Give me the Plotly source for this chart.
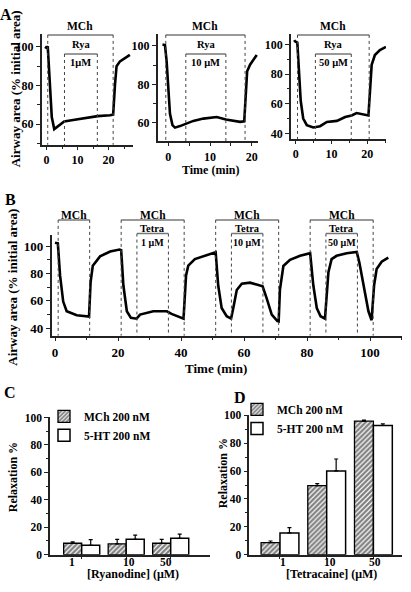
import plotly.graph_objects as go

W, H = 411, 592

# ---------------- Panel A : ryanodine traces (time min, airway area %) -------------
a1_t = [-0.5, 0.0, 0.4, 1.1, 1.7, 2.5, 3.8, 5.7, 8.6, 11.9, 16.5, 20.5, 21.5, 22.1, 22.6, 23.7, 25.3, 26.9]
a1_v = [100.0, 99.5, 100.2, 79.0, 63.7, 57.5, 59.2, 61.4, 62.2, 63.0, 64.2, 64.7, 65.0, 80.6, 90.0, 92.5, 94.2, 95.8]

a2_t = [-1.4, -0.8, -0.4, 0.0, 0.4, 1.0, 1.6, 2.8, 4.2, 6.0, 8.4, 11.6, 13.8, 15.6, 17.2, 18.2, 18.6, 18.9, 19.6, 20.4, 21.2]
a2_v = [100.7, 100.4, 91.9, 78.3, 64.7, 58.8, 57.5, 58.3, 59.6, 61.0, 62.2, 63.0, 61.7, 61.0, 60.5, 60.8, 74.9, 86.8, 90.2, 92.7, 95.3]

a3_t = [-0.4, -0.2, 0.45, 0.9, 1.4, 2.1, 3.1, 4.9, 6.8, 8.7, 11.5, 13.8, 15.6, 17.0, 18.9, 20.3, 20.8, 21.2, 22.1, 23.5, 25.2]
a3_v = [103.0, 102.2, 101.3, 81.9, 62.0, 50.0, 45.5, 44.0, 44.8, 47.7, 48.4, 51.0, 52.1, 53.7, 52.8, 52.1, 70.9, 86.3, 92.9, 96.2, 98.4]

a_mch_on = [0.4, -0.6, 0.5]
a_mch_off = [21.5, 18.4, 20.5]
a_rya_on = [5.8, 4.2, 5.5]
a_rya_off = [16.4, 13.8, 15.5]
a_conc = ["1\u03bcM", "10 \u03bcM", "50 \u03bcM"]

# ---------------- Panel B : tetracaine trace ---------------------------------------
b_t = [0.0, 0.9, 1.6, 2.6, 3.7, 6.9, 10.8, 11.3, 12.0, 14.3,
       17.5, 20.5, 21.0, 21.7, 22.8, 24.1, 25.9, 27.0, 31.2, 35.5,
       37.0, 39.7, 40.8, 41.6, 42.3, 44.4, 48.1, 51.0, 51.8, 52.9,
       54.5, 55.9, 56.6, 57.7, 59.3, 61.9, 64.0, 65.9, 67.2, 68.8,
       70.6, 71.0, 71.4, 72.0, 72.5, 74.6, 77.8, 81.0, 82.0, 83.1,
       84.3, 85.7, 86.8, 87.8, 89.4, 92.6, 95.8, 96.6, 97.9, 99.5,
       100.5, 101.3, 102.1, 103.7, 105.8]
b_v = [102.5, 102.0, 78.6, 59.5, 52.4, 49.5, 48.6, 73.8, 85.7, 92.5,
       96.0, 97.5, 97.0, 71.4, 52.4, 47.6, 47.0, 50.0, 52.4, 52.4,
       50.5, 47.6, 47.0, 78.6, 85.7, 90.5, 93.6, 95.5, 71.4, 54.8,
       48.8, 47.1, 54.8, 67.9, 72.6, 73.3, 71.9, 70.7, 61.9, 50.0,
       45.2, 45.0, 68.0, 80.0, 85.5, 90.0, 92.9, 94.8, 71.4, 54.8,
       48.8, 47.1, 81.0, 90.5, 92.9, 94.8, 95.7, 88.1, 71.4, 52.4,
       45.9, 71.4, 83.3, 88.6, 91.6]

b_mch_on = [1, 21, 51, 81]
b_mch_off = [11, 41, 71, 101]
b_tet_on = [26, 56, 86]
b_tet_off = [36, 66, 96]
b_conc = ["1 \u03bcM", "10 \u03bcM", "50 \u03bcM"]

# ---------------- Panels C, D : relaxation bars -------------------------------------
conc_cats = ["1", "10", "50"]
c_mch = [8.3, 7.9, 8.3]
c_mch_err = [1.0, 3.3, 2.9]
c_ht = [6.8, 11.2, 11.9]
c_ht_err = [4.1, 3.1, 3.1]

d_mch = [8.6, 49.6, 95.9]
d_mch_err = [1.2, 1.4, 0.7]
d_ht = [15.6, 60.1, 92.8]
d_ht_err = [3.8, 8.6, 1.2]

series_names = ["MCh 200 nM", "5-HT 200 nM"]

# category-label positions (in category units) as printed in the original figure
c_label_pos = [-0.22, 1.06, 1.89]
d_label_pos = [0.07, 1.07, 2.03]

# ------------------------------------------------------------------------------------
FONT = "Liberation Serif"


def fx(px):
    return px / W


def fy(py):
    return 1 - py / H


fig = go.Figure()

LINE = dict(color="black", width=2.6)
for t, v, ax in [(a1_t, a1_v, "1"), (a2_t, a2_v, "2"), (a3_t, a3_v, "3"), (b_t, b_v, "4")]:
    fig.add_trace(go.Scatter(x=t, y=v, mode="lines", line=LINE, showlegend=False,
                             xaxis="x" + ax, yaxis="y" + ax))

err_style = dict(type="data", symmetric=False, color="black", thickness=1.2, width=2)
hatch = dict(shape="/", fgcolor="black", bgcolor="white", size=3.5, solidity=0.65)

for ax, mch, mch_e, ht, ht_e, lg in [("5", c_mch, c_mch_err, c_ht, c_ht_err, "legend"),
                                      ("6", d_mch, d_mch_err, d_ht, d_ht_err, "legend2")]:
    fig.add_trace(go.Bar(x=conc_cats, y=mch, name=series_names[0],
                         marker=dict(color="white", pattern=hatch, line=dict(color="black", width=1.3)),
                         error_y=dict(array=mch_e, arrayminus=[0] * 3, **err_style),
                         xaxis="x" + ax, yaxis="y" + ax, legend=lg))
    fig.add_trace(go.Bar(x=conc_cats, y=ht, name=series_names[1],
                         marker=dict(color="white", line=dict(color="black", width=1.5)),
                         error_y=dict(array=ht_e, arrayminus=[0] * 3, **err_style),
                         xaxis="x" + ax, yaxis="y" + ax, legend=lg))

axis_common = dict(showgrid=False, zeroline=False, showline=True, linecolor="#222",
                   linewidth=1.5, ticks="outside", tickcolor="#222", tickwidth=1.2,
                   ticklen=4)


def minor(d):
    return dict(ticks="outside", ticklen=2.5, tickcolor="#222", tickwidth=1, dtick=d, showgrid=False)


# pixel boxes: (left, right, top, bottom)
boxes = {
    "1": (41.7, 133.3, 29.0, 141.7),
    "2": (157.7, 258.0, 28.3, 138.3),
    "3": (291.0, 386.0, 28.3, 136.0),
    "4": (51.7, 401.7, 233.3, 336.5),
    "5": (50.0, 210.0, 420.0, 560.0),
    "6": (249.3, 401.7, 417.3, 560.0),
}
xranges = {"1": [-1.55, 28.0], "2": [-2.54, 21.5], "3": [-1.31, 25.2], "4": [-1.05, 110.06],
           "5": [-0.712, 2.883], "6": [-0.657, 2.606]}
yranges = {"1": [49.4, 106.4], "2": [50.3, 106.3], "3": [36.0, 107.3], "4": [34.6, 108.4],
           "5": [0, 100], "6": [0, 100.4]}
xticks = {"1": [0, 10, 20], "2": [0, 10, 20], "3": [0, 10, 20], "4": [0, 20, 40, 60, 80, 100]}
xminor = {"1": 5, "2": 5, "3": 5, "4": 10}
yticks = {"1": [60, 80, 100], "2": [60, 80, 100], "3": [40, 60, 80, 100], "4": [40, 60, 80, 100],
          "5": [0, 20, 40, 60, 80, 100], "6": [0, 20, 40, 60, 80, 100]}
tsize = {"1": 12, "2": 12, "3": 12, "4": 13, "5": 11.5, "6": 11.5}

layout_axes = {}
for k, (l, r, t, b) in boxes.items():
    xname = "xaxis" if k == "1" else "xaxis" + k
    yname = "yaxis" if k == "1" else "yaxis" + k
    xa = dict(axis_common, domain=[fx(l), fx(r)], range=xranges[k], anchor="y" + ("" if k == "1" else k),
              tickfont=dict(size=tsize[k]))
    if k in xticks:
        xa.update(tickmode="array", tickvals=xticks[k], minor=minor(xminor[k]))
        if k in ("1", "2", "3"):
            xa.update(ticklen=3)
    else:
        xa.update(type="category", showticklabels=False, ticklen=3)
    ya = dict(axis_common, domain=[fy(b), fy(t)], range=yranges[k], anchor="x" + ("" if k == "1" else k),
              tickmode="array", tickvals=yticks[k], minor=minor(10), tickfont=dict(size=tsize[k]))
    layout_axes[xname] = xa
    layout_axes[yname] = ya

annotations = []
shapes = []


def ann(text, x, y, size, xref="paper", angle=0):
    annotations.append(dict(text=text, x=x, y=y, xref=xref, yref="paper", showarrow=False,
                            font=dict(size=size), textangle=angle, xanchor="center", yanchor="middle"))


def hline(x0, x1, xref, py, color="#777", width=1.5):
    shapes.append(dict(type="line", xref=xref, yref="paper", x0=x0, x1=x1, y0=fy(py), y1=fy(py),
                       line=dict(color=color, width=width)))


def vdash(x, xref, ptop, pbot):
    shapes.append(dict(type="line", xref=xref, yref="paper", x0=x, x1=x, y0=fy(ptop), y1=fy(pbot),
                       line=dict(color="#444", width=1, dash="dot")))


# Panel A brackets
for i, k in enumerate(["1", "2", "3"]):
    xr = "x" if k == "1" else "x" + k
    bottom = boxes[k][3]
    on, off = a_mch_on[i], a_mch_off[i]
    ron, roff = a_rya_on[i], a_rya_off[i]
    hline(on, off, xr, 29.5)
    vdash(on, xr, 29.5, bottom)
    vdash(off, xr, 29.5, bottom)
    ann("MCh", (on + off) / 2, fy(20.7), 11.5, xref=xr)
    hline(ron, roff, xr, 49.0)
    vdash(ron, xr, 49.0, bottom)
    vdash(roff, xr, 49.0, bottom)
    ann("Rya", (ron + roff) / 2, fy(39.0), 10.5, xref=xr)
    ann(a_conc[i], (ron + roff) / 2, fy(57.5), 10.5, xref=xr)

# Panel B brackets
for i in range(4):
    on, off = b_mch_on[i], b_mch_off[i]
    hline(on, off, "x4", 218.3)
    vdash(on, "x4", 218.3, boxes["4"][3])
    vdash(off, "x4", 218.3, boxes["4"][3])
    ann("MCh", (on + off) / 2, fy(213.0), 11.5, xref="x4")
for i in range(3):
    on, off = b_tet_on[i], b_tet_off[i]
    hline(on, off, "x4", 232.3)
    vdash(on, "x4", 232.3, boxes["4"][3])
    vdash(off, "x4", 232.3, boxes["4"][3])
    ann("Tetra", (on + off) / 2, fy(226.7), 10.5, xref="x4")
    ann(b_conc[i], (on + off) / 2, fy(241.0), 10, xref="x4")

# Category tick labels of C and D
for cat, pos in zip(conc_cats, c_label_pos):
    ann(cat, pos, fy(567.5), 11.5, xref="x5")
for cat, pos in zip(conc_cats, d_label_pos):
    ann(cat, pos, fy(567.5), 11.5, xref="x6")

# Panel letters
ann("A", fx(6.2), fy(9.0), 16)
ann("B", fx(10.0), fy(198.0), 16)
ann("C", fx(9.5), fy(395.0), 16)
ann("D", fx(240.0), fy(400.0), 16)

# Axis titles
ann("Airway area (% initial area)", fx(15.0), fy(85.0), 13, angle=-90)
ann("Time (min)", fx(210.0), fy(167.5), 12)
ann("Airway area (% initial area)", fx(12.5), fy(287.0), 13, angle=-90)
ann("Time (min)", fx(216.0), fy(370.5), 13)
ann("Relaxation %", fx(13.0), fy(481.0), 12, angle=-90)
ann("[Ryanodine] (\u03bcM)", fx(133.0), fy(579.5), 12)
ann("Relaxation %", fx(223.0), fy(477.0), 12, angle=-90)
ann("[Tetracaine] (\u03bcM)", fx(331.0), fy(579.5), 12)

legend_style = dict(bgcolor="rgba(0,0,0,0)", font=dict(size=11.5), tracegroupgap=0,
                    xanchor="left", yanchor="top", itemclick=False, itemdoubleclick=False)

fig.update_layout(
    width=W, height=H, autosize=False,
    margin=dict(l=0, r=0, t=0, b=0),
    paper_bgcolor="white", plot_bgcolor="white",
    font=dict(family=FONT, size=12, color="black", weight="bold"),
    barmode="group", bargap=0.19, bargroupgap=0,
    showlegend=True,
    legend=dict(legend_style, x=fx(44.0), y=fy(404.0)),
    legend2=dict(legend_style, x=fx(237.0), y=fy(397.0)),
    annotations=annotations,
    shapes=shapes,
    **layout_axes,
)

fig.write_html("out.html", config={"displayModeBar": False},
               post_script="document.body.style.margin='0';")
